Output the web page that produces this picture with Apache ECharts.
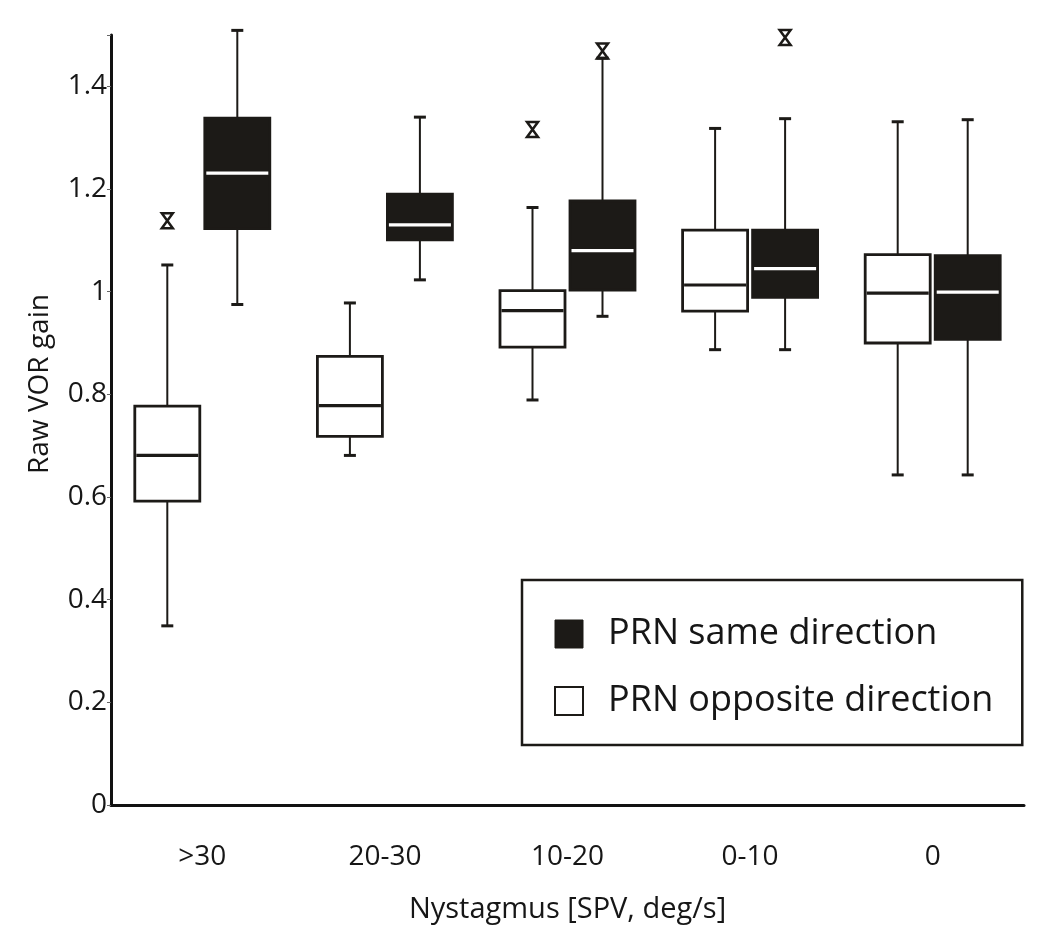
<!DOCTYPE html>
<html><head><meta charset="utf-8">
<script src="https://cdn.jsdelivr.net/npm/echarts@6/dist/echarts.min.js"></script>
<style>html,body{margin:0;padding:0;background:#fff}#c{width:1050px;height:952px}</style>
</head><body><div id="c"></div>
<script>
const categories = ['>30', '20-30', '10-20', '0-10', '0'];
const seriesNames = ['PRN same direction', 'PRN opposite direction'];
// each row: [min, Q1, median, Q3, max]
const sameDirection = [
  [0.975, 1.123, 1.231, 1.338, 1.509],
  [1.023, 1.101, 1.130, 1.190, 1.340],
  [0.952, 1.003, 1.080, 1.177, 1.455],
  [0.887, 0.989, 1.045, 1.120, 1.337],
  [0.643, 0.907, 0.999, 1.070, 1.335]
];
const oppositeDirection = [
  [0.349, 0.592, 0.681, 0.777, 1.052],
  [0.681, 0.718, 0.778, 0.874, 0.978],
  [0.789, 0.892, 0.963, 1.002, 1.164],
  [0.887, 0.962, 1.013, 1.120, 1.318],
  [0.643, 0.900, 0.997, 1.072, 1.331]
];
// [category index, value]
const sameOutliers = [[2, 1.469], [3, 1.495]];
const oppositeOutliers = [[0, 1.138], [2, 1.316]];

const FONT = 'Open Sans';
const INK = '#1c1a17';
const TXT = '#161616';
const BOX_HALF = 32.5;
const CAP = 6;

function boxRenderer(offset, fill, medianColor) {
  return function (params, api) {
    const i = api.value(0);
    const mn = api.value(1), q1 = api.value(2), md = api.value(3), q3 = api.value(4), mx = api.value(5);
    const cx = api.coord([i, 0])[0] + offset;
    const Y = v => api.coord([i, v])[1];
    const ls = { stroke: INK, lineWidth: 2 };
    return {
      type: 'group',
      children: [
        { type: 'line', shape: { x1: cx, y1: Y(mn), x2: cx, y2: Y(q1) }, style: ls },
        { type: 'line', shape: { x1: cx, y1: Y(q3), x2: cx, y2: Y(mx) }, style: ls },
        { type: 'line', shape: { x1: cx - CAP, y1: Y(mn), x2: cx + CAP, y2: Y(mn) }, style: { stroke: INK, lineWidth: 3 } },
        { type: 'line', shape: { x1: cx - CAP, y1: Y(mx), x2: cx + CAP, y2: Y(mx) }, style: { stroke: INK, lineWidth: 3 } },
        { type: 'rect', shape: { x: cx - BOX_HALF, y: Y(q3), width: BOX_HALF * 2, height: Y(q1) - Y(q3) }, style: { fill: fill, stroke: INK, lineWidth: 2.8 } },
        { type: 'line', shape: { x1: cx - BOX_HALF + 1.5, y1: Y(md), x2: cx + BOX_HALF - 1.5, y2: Y(md) }, style: { stroke: medianColor, lineWidth: 3.2 } }
      ]
    };
  };
}
function outlierRenderer(offset) {
  return function (params, api) {
    const i = api.value(0);
    const p = api.coord([i, api.value(1)]);
    const cx = p[0] + offset, cy = p[1];
    return {
      type: 'polygon',
      shape: { points: [[cx - 5.5, cy - 7.5], [cx + 5.5, cy - 7.5], [cx - 5.5, cy + 7.5], [cx + 5.5, cy + 7.5]] },
      style: { fill: 'none', stroke: INK, lineWidth: 2.5 }
    };
  };
}

const chart = echarts.init(document.getElementById('c'), null, { renderer: 'canvas' });
chart.setOption({
  backgroundColor: '#fff',
  animation: false,
  textStyle: { fontFamily: FONT },
  grid: { left: 111, right: 26, top: 35, bottom: 147, containLabel: false },
  legend: {
    orient: 'vertical', left: 522, top: 580,
    selectedMode: false,
    data: [
      { name: seriesNames[0], icon: 'rect', itemStyle: { color: INK, borderColor: INK, borderWidth: 1 } },
      { name: seriesNames[1], icon: 'rect', itemStyle: { color: '#fff', borderColor: INK, borderWidth: 2 } }
    ],
    itemWidth: 28, itemHeight: 28, itemGap: 27,
    borderColor: INK, borderWidth: 2.5,
    padding: [34, 29, 24, 32],
    textStyle: { fontSize: 36, lineHeight: 40, fontFamily: FONT, color: TXT, padding: [0, 0, 0, 20] }
  },
  xAxis: {
    type: 'category', data: categories, boundaryGap: true,
    axisLine: { lineStyle: { color: '#111', width: 3 } },
    axisTick: { show: false },
    axisLabel: { fontSize: 28, margin: 38, color: TXT, fontFamily: FONT },
    name: 'Nystagmus [SPV, deg/s]', nameLocation: 'middle', nameGap: 90,
    nameTextStyle: { fontSize: 29, color: TXT, fontFamily: FONT }
  },
  yAxis: {
    type: 'value', min: 0, max: 1.5, interval: 0.2,
    axisLine: { show: true, lineStyle: { color: '#111', width: 3 } },
    axisTick: { show: true, length: 4, lineStyle: { color: '#666', width: 1 } },
    splitLine: { show: false },
    axisLabel: {
      fontSize: 28, margin: 4, color: TXT, fontFamily: FONT,
      formatter: v => (v > 1.45 ? '' : String(Math.round(v * 10) / 10))
    },
    name: 'Raw VOR gain', nameLocation: 'middle', nameGap: 57,
    nameTextStyle: { fontSize: 28, color: TXT, fontFamily: FONT, padding: [0, 0, 0, 72] }
  },
  series: [
    {
      name: seriesNames[1], type: 'custom',
      itemStyle: { color: '#fff', borderColor: INK },
      renderItem: boxRenderer(-35, '#fff', INK),
      encode: { x: 0, y: [1, 2, 3, 4, 5] },
      data: oppositeDirection.map((d, i) => [i].concat(d))
    },
    {
      name: seriesNames[0], type: 'custom',
      itemStyle: { color: INK },
      renderItem: boxRenderer(35, INK, '#fff'),
      encode: { x: 0, y: [1, 2, 3, 4, 5] },
      data: sameDirection.map((d, i) => [i].concat(d))
    },
    {
      name: seriesNames[1], type: 'custom',
      renderItem: outlierRenderer(-35),
      encode: { x: 0, y: 1 },
      data: oppositeOutliers
    },
    {
      name: seriesNames[0], type: 'custom',
      renderItem: outlierRenderer(35),
      encode: { x: 0, y: 1 },
      data: sameOutliers
    }
  ]
});
</script>
</body></html>
